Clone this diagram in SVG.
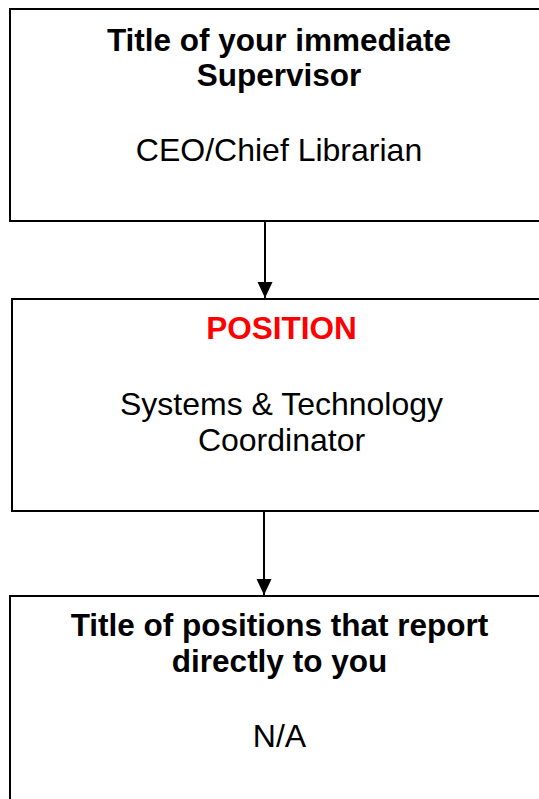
<svg xmlns="http://www.w3.org/2000/svg" width="539" height="799" viewBox="0 0 539 799">
<style>
.box{fill:#fff;stroke:#000;stroke-width:2}
.t{font-family:"Liberation Sans",Arial,sans-serif;text-anchor:middle;fill:#000}
.b{font-weight:bold;font-size:31.5px}
.r{font-size:32px}
.red{fill:#ff0000}
.conn{stroke:#000;stroke-width:2;fill:none}
</style>
<defs>
<marker id="arr" viewBox="0 0 16 16" refX="16" refY="8" markerWidth="16" markerHeight="16" orient="auto" markerUnits="userSpaceOnUse">
<path d="M0,0.5 L16,8 L0,15.5 z" fill="#000"/>
</marker>
</defs>
<rect width="539" height="799" fill="#fff"/>
<g id="connectors">
<line class="conn" x1="265" y1="221" x2="265" y2="298" marker-end="url(#arr)"/>
<line class="conn" x1="264" y1="511" x2="264" y2="595" marker-end="url(#arr)"/>
</g>
<g id="supervisor">
<rect class="box" x="10" y="9" width="570" height="212"/>
<text class="t b" x="279" y="51">Title of your immediate</text>
<text class="t b" x="279" y="86">Supervisor</text>
<text class="t r" x="279" y="161">CEO/Chief Librarian</text>
</g>
<g id="position">
<rect class="box" x="12" y="299" width="570" height="212"/>
<text class="t b red" x="281.5" y="339">POSITION</text>
<text class="t r" x="281.5" y="415">Systems &amp; Technology</text>
<text class="t r" x="281.5" y="451">Coordinator</text>
</g>
<g id="reports">
<rect class="box" x="10" y="596" width="570" height="230"/>
<text class="t b" x="279.5" y="636">Title of positions that report</text>
<text class="t b" x="279.5" y="672">directly to you</text>
<text class="t r" x="279.5" y="747">N/A</text>
</g>
</svg>
